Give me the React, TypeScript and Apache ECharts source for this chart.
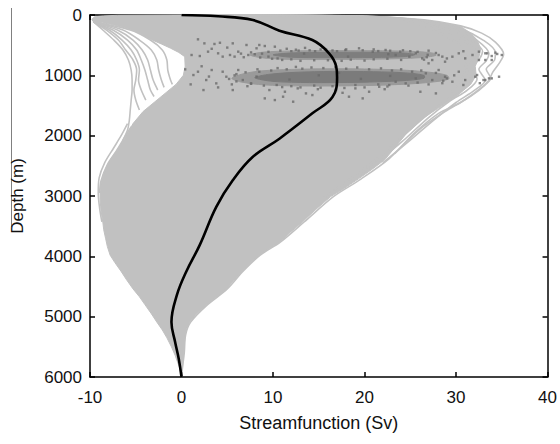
import React, { useEffect, useRef } from "react";
import * as echarts from "echarts";

// ---- axis ticks ----
const xTicks = [-10, 0, 10, 20, 30, 40];
const yTicks = [0, 1000, 2000, 3000, 4000, 5000, 6000];

// ---- ensemble envelope (Streamfunction Sv, Depth m) ----
const coreRight: number[][] = [
  [0, 0], [6, 2], [12, 5], [17, 12], [20, 20], [23.5, 45], [26, 80], [28.5, 130], [30.5, 190], [31.6, 300],
  [32.3, 415], [32.7, 560], [32.5, 700], [32.1, 850], [32.2, 1000], [31.6, 1150], [30.8, 1250], [30, 1350],
  [29, 1450], [28, 1550], [26.5, 1700], [25.5, 1840], [24.5, 1980], [23.3, 2200], [22.2, 2400], [20.8, 2560],
  [19.3, 2720], [17.8, 2870], [16.3, 3010], [14.7, 3220], [13.2, 3430], [11.9, 3600], [10.7, 3765], [9.6, 3870],
  [8.5, 3980], [7.5, 4110], [6.6, 4250], [5.7, 4400], [4.9, 4540], [3.7, 4690], [2.6, 4820], [1.6, 4960],
  [0.9, 5090], [0.55, 5200], [0.4, 5300], [0.3, 5450], [0.25, 5600], [0.1, 5850], [0, 6000],
];
const coreLeft: number[][] = [
  [0, 6000], [-0.2, 5850], [-0.7, 5640], [-1.1, 5500], [-1.6, 5350], [-2.1, 5220], [-2.7, 5090], [-3.3, 4950],
  [-4.0, 4800], [-4.6, 4670], [-5.3, 4540], [-6.0, 4390], [-6.6, 4250], [-7.3, 4100], [-7.8, 3980], [-8.1, 3840],
  [-8.3, 3700], [-8.5, 3560], [-8.6, 3430], [-8.8, 3240], [-8.9, 3050], [-8.9, 2920], [-8.8, 2800], [-8.6, 2660],
  [-8.2, 2520], [-7.7, 2380], [-7.0, 2240], [-6.6, 2140], [-6.2, 2050], [-5.3, 1800], [-4.2, 1600], [-3.0, 1450],
  [-1.8, 1300], [-0.6, 1150], [0.2, 1000], [0.4, 850], [0.35, 690], [-0.3, 620], [-1.2, 550], [-2.2, 480],
  [-3.2, 415], [-4.2, 335], [-5.2, 260], [-6.4, 205], [-7.5, 160], [-8.6, 130], [-9.64, 111], [-9.8, 70],
  [-9.5, 30], [-8.5, 15], [-7, 5], [0, 0],
];

// ---- individual ensemble members that stick out of the envelope ----
const memberR1 = [[0, 0], [12, 5], [20, 20], [26.5, 80], [30.5, 180], [32.8, 300], [34.3, 450], [35.2, 650], [34.8, 780], [34, 950], [33.6, 1080], [32.5, 1250], [30.5, 1450], [28.1, 1630], [25.5, 1950], [22.7, 2380], [19.6, 2720], [16.6, 3010], [13.4, 3430], [10.8, 3765], [8.6, 3980], [6.7, 4250], [5.0, 4540], [2.7, 4820], [1.0, 5090], [0.45, 5300], [0.3, 5600], [0.1, 5850], [0, 6000]];
const memberR2 = [[0, 0], [20, 20], [27, 100], [30.5, 230], [33, 420], [34.3, 620], [34.2, 750], [33.3, 900], [33.8, 1050], [32.8, 1200], [31, 1400], [28.8, 1600], [26, 1900], [23.3, 2300]];
const memberR3 = [[0, 0], [20, 20], [26.5, 100], [30, 230], [32.3, 420], [33.6, 640], [33.3, 760], [32.5, 900], [33.2, 1080], [32, 1250], [30, 1450], [27.5, 1750], [24.8, 2100], [22, 2450]];
const memberR4 = [[0, 0], [19, 20], [26, 110], [29.4, 250], [31.6, 420], [32.9, 600], [32.6, 720], [31.8, 880], [32.3, 1060], [31.2, 1250], [29.4, 1420], [27, 1700], [24.1, 2100], [21.3, 2450], [18.6, 2750]];
const memberR5 = [[0, 0], [19, 20], [25.5, 110], [28.8, 260], [30.9, 430], [32.2, 620], [31.8, 760], [31.2, 900], [31.6, 1080], [30.6, 1260], [28.8, 1430], [26.5, 1700], [23.5, 2100], [20.8, 2450], [18, 2760], [15.4, 3050]];
const memberR6 = [[0, 0], [18, 20], [25, 120], [28, 280], [30, 450], [31.2, 620], [31.1, 800], [30.8, 1000], [30, 1200], [28.2, 1420]];
const memberL1 = [[-9.64, 111], [-8.6, 249], [-7.4, 415], [-6.4, 580], [-5.8, 746], [-5.5, 912], [-5.4, 1078], [-5.4, 1244], [-5.5, 1410], [-5.6, 1575], [-5.7, 1741], [-5.9, 1907], [-6.4, 2073]];
const memberL2 = [[-9.64, 111], [-8.2, 249], [-6.9, 415], [-6.1, 580], [-5.3, 746], [-4.9, 912], [-5.0, 1078], [-5.2, 1244], [-5.0, 1410], [-4.6, 1575]];
const memberL3 = [[-9.64, 111], [-7.9, 249], [-6.5, 415], [-5.5, 580], [-4.9, 746], [-4.6, 912], [-4.7, 1078], [-4.4, 1244], [-3.9, 1410]];
const memberL4 = [[-9.64, 111], [-7.5, 249], [-5.9, 415], [-4.9, 580], [-4.4, 746], [-4.0, 912], [-3.7, 1078], [-3.4, 1244], [-3.0, 1350]];
const memberL5 = [[-9.64, 111], [-7.0, 249], [-5.3, 415], [-4.3, 580], [-3.7, 746], [-3.4, 912], [-3.1, 1078], [-2.6, 1244]];
const memberL6 = [[-9.64, 111], [-6.4, 249], [-4.6, 415], [-3.3, 580], [-2.7, 746], [-2.5, 912], [-2.2, 1078], [-1.9, 1200]];
const memberL7 = [[-9.64, 111], [-5.6, 249], [-3.4, 415], [-2.1, 580], [-1.6, 746], [-1.5, 912], [-1.2, 1078], [-1.0, 1150]];
const memberF1 = [[-5.9, 1800], [-6.6, 2000], [-7.4, 2200], [-8.4, 2450], [-9.0, 2700], [-9.1, 2950], [-8.95, 3200], [-8.7, 3430]];
const memberF2 = [[-5.5, 1850], [-6.3, 2050], [-7.1, 2250], [-8.1, 2480], [-8.8, 2750], [-8.95, 2950]];

// ---- dense observation clusters (outer halo, inner core) ----
const cluster1Outer = [[7.5, 660], [9, 615], [12, 597], [16, 590], [21, 592], [25, 602], [27.5, 632], [27.8, 670], [26, 708], [22, 730], [16, 738], [11, 732], [8.5, 703]];
const cluster1Inner = [[10, 660], [12, 630], [16, 619], [20.5, 618], [24, 628], [25.5, 655], [24.5, 688], [21, 704], [16, 708], [12, 700]];
const cluster2Outer = [[5.5, 1050], [6.5, 985], [8.5, 930], [12, 902], [16, 892], [20, 895], [24, 912], [27, 947], [29, 1000], [29.2, 1060], [27.5, 1110], [24, 1150], [19, 1172], [13, 1176], [9, 1158], [6.5, 1110]];
const cluster2Inner = [[8, 1040], [9.5, 985], [12.5, 950], [16.5, 935], [21, 940], [24.5, 960], [26.5, 1000], [26.5, 1050], [24, 1090], [19.5, 1115], [14, 1120], [10, 1100]];

// ---- individual observations ----
const obsPoints: number[][] = [
  [1.8, 403], [2.5, 470], [3.6, 480], [4.2, 460], [5.6, 470], [7.1, 497], [8.5, 497], [1.1, 663], [2.0, 680], [2.9, 608],
  [4.0, 635], [4.5, 690], [5.3, 663], [6.2, 608], [7.3, 663], [8.2, 552], [9.1, 514], [10.2, 525], [6.8, 700], [8.8, 640],
  [9.5, 690], [3.3, 560], [5.0, 540], [11.5, 560], [12.8, 590], [13.5, 545], [14.6, 600], [15.8, 575], [17.9, 580], [19.4, 552],
  [20.9, 608], [22.3, 580], [23.4, 663], [23.9, 608], [24.9, 691], [25.6, 635], [26.3, 719], [27.0, 591], [27.4, 746], [28.1, 663],
  [28.8, 774], [29.6, 691], [30.3, 635], [31.0, 719], [31.8, 663], [32.5, 746], [33.2, 635], [33.9, 680], [34.5, 646], [27.0, 801],
  [32.5, 608], [33.4, 635], [34.3, 624], [35.0, 663], [33.9, 746], [33.2, 746], [11, 745], [13, 760], [16, 750], [18.5, 740],
  [21, 735], [22.5, 725], [12, 600], [17, 600], [21.5, 598], [25, 600], [29, 720], [30.8, 600], [26.8, 700], [9.5, 610],
  [10.5, 720], [0.4, 901], [1.3, 995], [1.8, 940], [2.4, 1244], [2.7, 1078], [3.3, 912], [3.8, 1133], [4.5, 940], [4.9, 1023],
  [5.6, 1244], [6.2, 912], [6.7, 1078], [7.6, 1133], [8.5, 940], [9.1, 1382], [9.6, 1244], [10.2, 1410], [11.1, 1354], [12.2, 1437],
  [11.3, 1272], [12.7, 1216], [13.6, 1299], [14.3, 1327], [16.9, 1244], [18.3, 1354], [19.0, 1216], [19.8, 1382], [20.5, 1272], [21.6, 1189],
  [22.7, 1161], [23.4, 1106], [24.5, 1133], [25.6, 1050], [26.1, 1272], [26.7, 967], [27.4, 1078], [28.1, 912], [28.8, 1023], [29.6, 1106],
  [30.3, 940], [31.0, 1078], [32.1, 1023], [33.2, 1078], [33.9, 1050], [27.8, 1299], [33.6, 1050], [33.0, 1078], [32.3, 995], [34.7, 1023],
  [5.5, 1150], [7.2, 1180], [8.2, 1020], [9.8, 920], [11.5, 900], [13.2, 890], [15.5, 880], [18, 890], [20.5, 900], [23, 920],
  [25.2, 940], [10.4, 1160], [12, 1180], [14.5, 1170], [16.5, 1180], [19, 1160], [21.5, 1150], [25.8, 1120], [28.5, 1130], [1.0, 1150],
  [2.2, 850], [3.0, 1020], [4.0, 1200], [6.0, 980], [14.9, 1230], [17.6, 1290], [22.2, 1230], [29.8, 1000], [30.8, 1160], [32.6, 1130],
  [10.8, 590], [12.5, 575], [14, 585], [15.2, 570], [16.5, 588], [18, 570], [19.8, 585], [21, 570], [22.8, 592], [24.2, 585],
  [25.8, 610], [26.9, 660], [27.8, 630], [28.5, 690], [26.5, 740], [24, 745], [20, 755], [17.5, 760], [14.5, 750], [12, 735],
  [9.9, 725], [8.6, 705], [8, 650], [7.6, 620], [6.5, 640], [5.8, 690],
  [6, 1100], [5.2, 1060], [5.8, 1000], [7, 950], [8.3, 900], [10.5, 880], [12.5, 860], [14.2, 870], [16.8, 862], [19.2, 870],
  [21.8, 885], [24, 900], [26.2, 920], [27.8, 960], [29, 1050], [28.6, 1090], [27, 1150], [24.8, 1170], [22.5, 1185], [20, 1200],
  [17.8, 1210], [15.2, 1205], [13, 1200], [11, 1195], [9, 1170], [7.6, 1140],
  [13.4, 640], [18.2, 690], [22.6, 650], [15, 1000], [19.6, 1060], [11.8, 1070], [22.8, 1010], [17.2, 960],
];

// ---- ensemble mean ----
const meanProfile = [
  [0, 0], [4, 22], [7.8, 83], [10.7, 260], [14.3, 415], [16.1, 630], [16.9, 850], [17, 1030], [16.5, 1360], [14.3, 1630],
  [10.7, 2050], [7.8, 2350], [5.6, 2740], [3.8, 3180], [2.0, 3810], [0.5, 4260], [-0.5, 4640], [-1.1, 5090], [-0.7, 5420],
  [-0.3, 5700], [0, 6000],
];

const members = [memberR1, memberR2, memberR3, memberR4, memberR5, memberR6, memberL1, memberL2, memberL3, memberL4, memberL5, memberL6, memberL7, memberF1, memberF2];

const GRAY = "#c1c1c1";
const FONT = "Liberation Sans, Arial, Helvetica, sans-serif";

function polySeries(pts: number[][], color: string, z: number, smooth: number) {
  return {
    type: "custom",
    coordinateSystem: "cartesian2d",
    data: [[pts[0][0], pts[0][1]]],
    silent: true,
    z,
    renderItem: (_p: any, api: any) => ({
      type: "polygon",
      shape: { points: pts.map((p) => api.coord(p)), smooth },
      style: { fill: color, stroke: color, lineWidth: 1 },
    }),
  };
}

export default function App() {
  const ref = useRef<HTMLDivElement>(null);
  useEffect(() => {
    if (!ref.current) return;
    const chart = echarts.init(ref.current, undefined, { renderer: "svg" });
    const axisLine = { show: true, onZero: false, lineStyle: { color: "#000", width: 1.5 } };
    const axisTick = { show: true, inside: true, length: 5, lineStyle: { color: "#000", width: 1.5 } };
    const option: any = {
      animation: false,
      backgroundColor: "#fff",
      textStyle: { fontFamily: FONT },
      grid: { left: 90, right: 11, top: 15, bottom: 67, containLabel: false },
      xAxis: [
        {
          type: "value", min: xTicks[0], max: xTicks[xTicks.length - 1], interval: 10, position: "bottom",
          axisLine, axisTick, splitLine: { show: false },
          axisLabel: { color: "#111", fontSize: 17, margin: 12, fontFamily: FONT, formatter: (v: number) => String(v) },
          name: "Streamfunction (Sv)", nameLocation: "middle", nameGap: 37,
          nameTextStyle: { color: "#111", fontSize: 18, fontFamily: FONT },
        },
        {
          type: "value", min: xTicks[0], max: xTicks[xTicks.length - 1], interval: 10, position: "top",
          axisLine, axisTick, splitLine: { show: false }, axisLabel: { show: false },
        },
      ],
      yAxis: [
        {
          type: "value", inverse: true, min: yTicks[0], max: yTicks[yTicks.length - 1], interval: 1000, position: "left",
          axisLine, axisTick, splitLine: { show: false },
          axisLabel: { color: "#111", fontSize: 17, margin: 8, fontFamily: FONT, formatter: (v: number) => String(v) },
          name: "Depth (m)", nameLocation: "middle", nameGap: 64, nameRotate: 90,
          nameTextStyle: { color: "#111", fontSize: 17, fontFamily: FONT },
        },
        {
          type: "value", inverse: true, min: yTicks[0], max: yTicks[yTicks.length - 1], interval: 1000, position: "right",
          axisLine, axisTick, splitLine: { show: false }, axisLabel: { show: false },
        },
      ],
      graphic: [
        { type: "line", shape: { x1: 11.5, y1: 8, x2: 11.5, y2: 227 }, style: { stroke: "#808080", lineWidth: 1 }, silent: true },
      ],
      series: [
        polySeries([...coreRight, ...coreLeft], GRAY, 1, 0),
        ...members.map((m) => ({
          type: "line", data: m, showSymbol: false, smooth: 0.3, silent: true, z: 2,
          lineStyle: { color: GRAY, width: 1.6 },
        })),
        polySeries(cluster1Outer, "#9c9c9c", 3, 0.3),
        polySeries(cluster2Outer, "#9a9a9a", 3, 0.3),
        polySeries(cluster1Inner, "#7e7e7e", 3, 0.3),
        polySeries(cluster2Inner, "#7b7b7b", 3, 0.3),
        {
          type: "scatter", data: obsPoints, symbol: "rect", symbolSize: 2.4, silent: true, z: 4,
          itemStyle: { color: "#6a6a6a" },
        },
        {
          type: "line", data: meanProfile, showSymbol: false, smooth: 0.4, silent: true, z: 5,
          lineStyle: { color: "#000", width: 2.6 },
        },
      ],
    };
    chart.setOption(option);
    return () => chart.dispose();
  }, []);
  return (
    <div
      ref={ref}
      style={{ position: "fixed", left: 0, top: 0, width: 560, height: 444, background: "#fff" }}
    />
  );
}
